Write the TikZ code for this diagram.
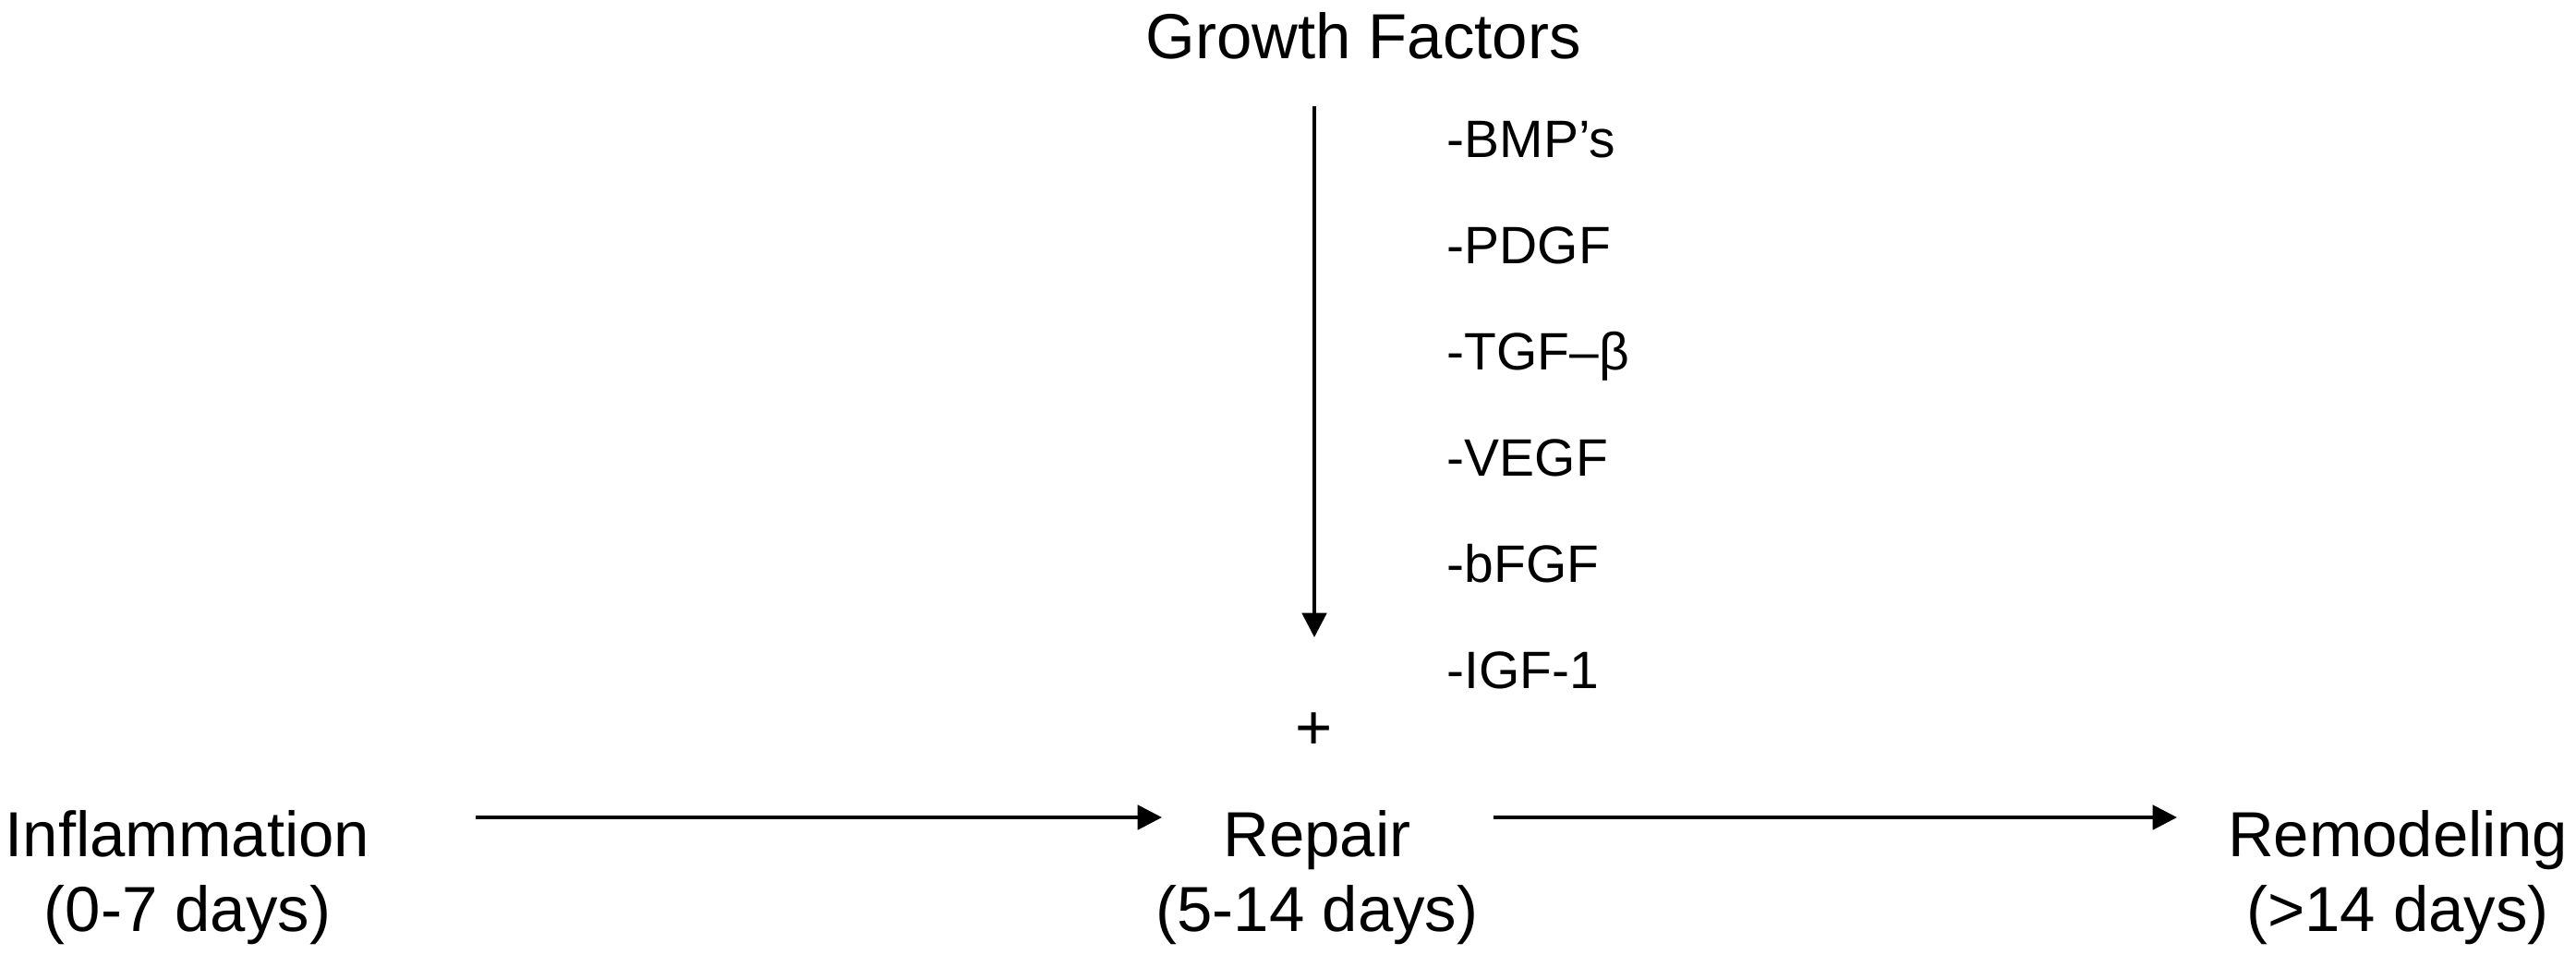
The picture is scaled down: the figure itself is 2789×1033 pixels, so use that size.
\documentclass[tikz,border=0pt]{standalone}
\usepackage{fontspec}
\setmainfont{Liberation Sans}
\usetikzlibrary{arrows.meta}
\begin{document}
\begin{tikzpicture}[x=0.01cm,y=-0.01cm,
  main/.style={font=\fontsize{19.6}{23}\selectfont, inner sep=0pt, align=center},
  item/.style={font=\fontsize{16.2}{18}\selectfont, inner sep=0pt, anchor=base west},
  conn/.style={line width=1.1pt, -{Triangle[length=7.5pt,width=7.5pt]}}]
\useasboundingbox (0,0) rectangle (2789,1033);
\node[main, anchor=base] (gf) at (1476,63) {Growth Factors};
\node[item] (i1) at (1566,170) {-BMP’s};
\node[item] (i2) at (1566,285) {-PDGF};
\node[item] (i3) at (1566,400) {-TGF–β};
\node[item] (i4) at (1566,515) {-VEGF};
\node[item] (i5) at (1566,630) {-bFGF};
\node[item] (i6) at (1566,745) {-IGF-1};
\node[main] (plus) at (1423,792) {+};
\node[main] (inf) at (203,950) {Inflammation\\(0-7 days)};
\node[main] (rep) at (1426,950) {Repair\\(5-14 days)};
\node[main] (rem) at (2596,950) {Remodeling\\(>14 days)};
\coordinate (vtop) at (1423,115);
\coordinate (vend) at (1423,690);
\coordinate (h1s) at (515,885);
\coordinate (h1e) at (1258,885);
\coordinate (h2s) at (1617,885);
\coordinate (h2e) at (2357,885);
\draw[conn] (vtop) -- (vend);
\draw[conn] (h1s) -- (h1e);
\draw[conn] (h2s) -- (h2e);
\end{tikzpicture}
\end{document}
